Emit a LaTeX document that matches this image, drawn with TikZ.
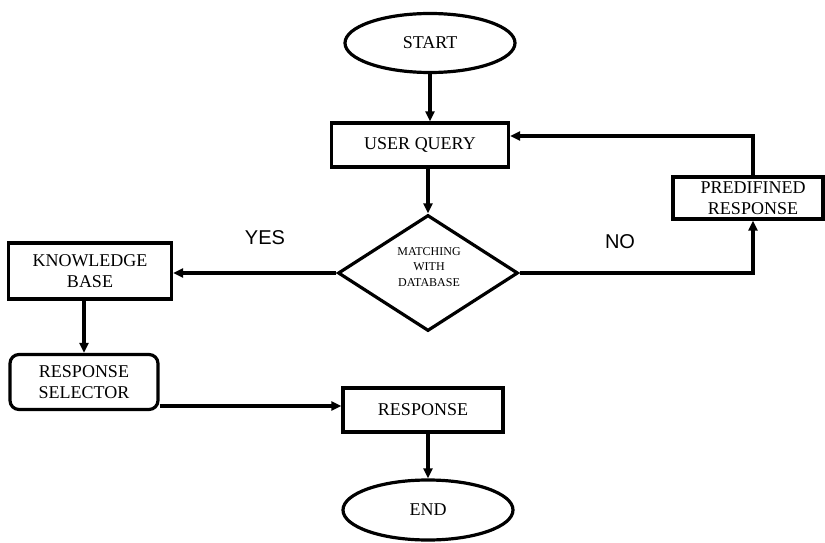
\documentclass[tikz,border=0pt]{standalone}
\usepackage{fontspec}
\setmainfont{Liberation Serif}
\newfontfamily\yesnofont{Liberation Sans}
\usetikzlibrary{shapes.geometric,arrows.meta}
\begin{document}
\begin{tikzpicture}[x=1pt,y=-1pt,
  line width=3.2pt,
  arr/.style={-{Triangle[length=10pt,width=9pt]}},
  boxtext/.style={font=\fontsize{18}{21}\selectfont,align=center},
  box/.style={draw,rectangle,inner sep=0pt,boxtext},
  term/.style={draw,ellipse,inner sep=0pt,boxtext},
  yn/.style={font=\yesnofont\fontsize{20}{24}\selectfont}]
\useasboundingbox (0,0) rectangle (825,543);
\node[term,minimum width=170pt,minimum height=59pt] (start) at (430,43) {START};
\node[box,minimum width=177pt,minimum height=44pt] (uq) at (420,145) {USER QUERY};
\node[draw,diamond,inner sep=0pt,minimum width=180pt,minimum height=116pt,aspect=1.55] (dia) at (428,273) {};
\node[font=\fontsize{12}{15.5}\selectfont,align=center] (diatext) at (429,267) {MATCHING\\WITH\\DATABASE};
\node[box,minimum width=163pt,minimum height=56pt] (kb) at (90,271) {KNOWLEDGE\\BASE};
\node[box,rounded corners=9pt,minimum width=148pt,minimum height=55pt] (rs) at (84,382) {RESPONSE\\SELECTOR};
\node[box,minimum width=160pt,minimum height=44pt] (resp) at (423,410) {RESPONSE};
\node[term,minimum width=170pt,minimum height=60pt] (end) at (428,510) {END};
\node[box,minimum width=150pt,minimum height=42pt] (pr) at (748,198) {};
\node[boxtext] (prtext) at (753,198) {PREDIFINED\\RESPONSE};
\node[yn] (yes) at (265,238) {YES};
\node[yn] (no) at (620,242) {NO};
\draw[arr] (start.south) -- (start.south |- uq.north);
\draw[arr] (dia.north |- uq.south) -- (dia.north);
\draw[arr] (dia.west) -- (dia.west -| kb.east);
\draw[arr] (dia.east) -| ([xshift=5pt]pr.south);
\draw[arr] ([xshift=5pt]pr.north) |- ([yshift=9pt]uq.east);
\draw[arr] (rs.north |- kb.south) -- (rs.north);
\draw[arr] ([yshift=4pt]resp.west -| rs.east) -- ([yshift=4pt]resp.west);
\draw[arr] (resp.south -| end.north) -- (end.north);
\end{tikzpicture}
\end{document}
